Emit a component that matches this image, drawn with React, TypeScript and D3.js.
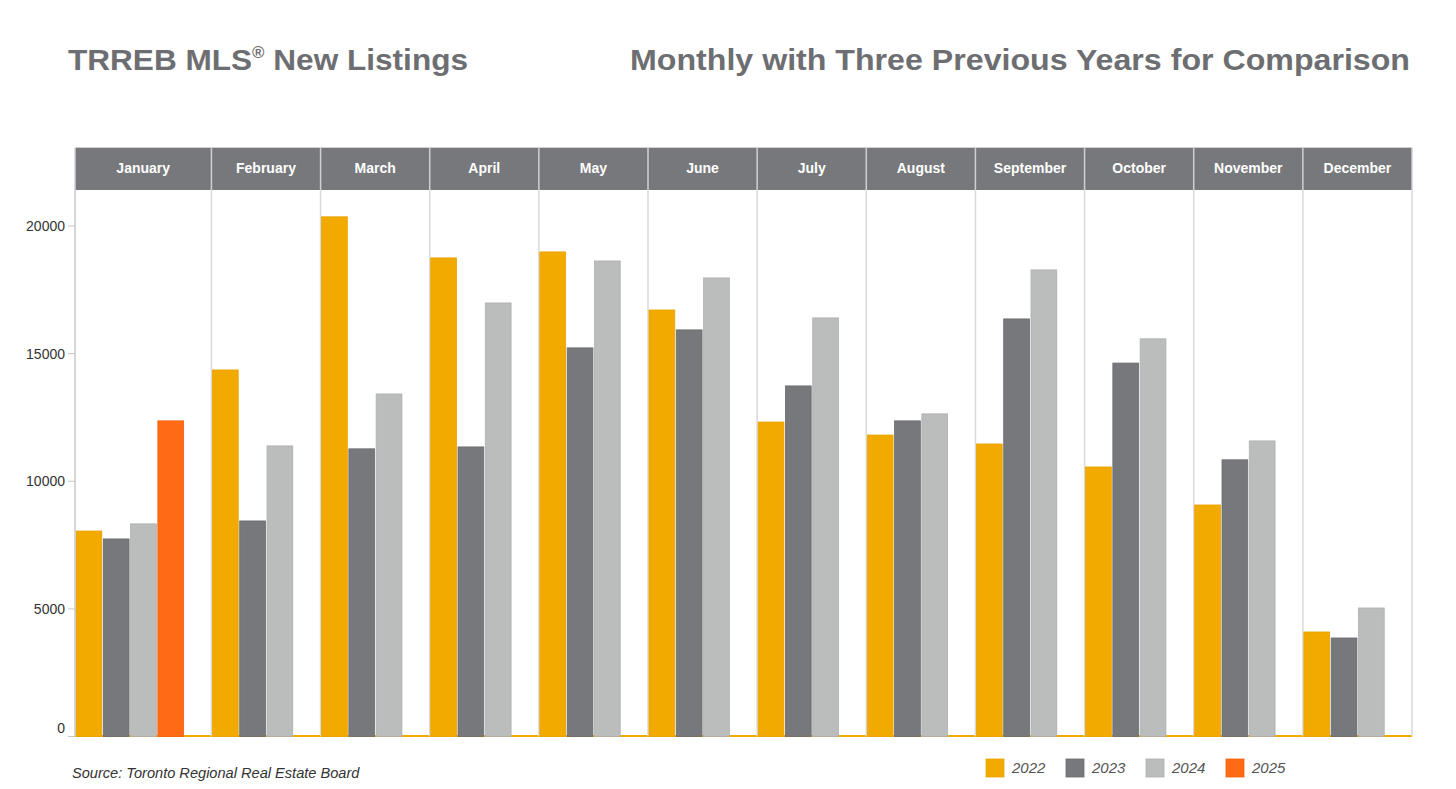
import React from "react";
import * as d3 from "d3";

const months = ["January","February","March","April","May","June","July","August","September","October","November","December"];
const years = ["2022","2023","2024","2025"];
const v2022 = [8050,14360,20360,18750,18985,16710,12320,11810,11460,10560,9070,4095];
const v2023 = [7740,8445,11270,11345,15225,15930,13735,12365,16360,14630,10840,3860];
const v2024 = [8330,11385,13420,16985,18630,17965,16400,12640,18280,15580,11580,5035];
const v2025 = [12365,null,null,null,null,null,null,null,null,null,null,null];
const yTicks = [0,5000,10000,15000,20000];

const colors: Record<string,string> = {"2022":"#F2A900","2023":"#77787B","2024":"#BBBCBC","2025":"#FF6B15"};
const strokes: Record<string,string> = {"2022":"#E9A300","2023":"#6A6B6E","2024":"#AEAFAF","2025":"#F25F0E"};

export default function App() {
  const W = 1456, H = 789;
  const left = 75, right = 1412, top = 190, bottom = 736.5;
  const series = [v2022, v2023, v2024, v2025];
  const slotsPer = months.map((_, i) => series.filter(s => s[i] != null).length + 1);
  const totalSlots = d3.sum(slotsPer);
  const slotX = d3.scaleLinear().domain([0, totalSlots]).range([left, right]);
  const starts: number[] = [];
  let acc = 0;
  slotsPer.forEach(n => { starts.push(acc); acc += n; });
  const y = d3.scaleLinear().domain([0, 20000]).range([bottom, 226]);

  return (
    <svg width={W} height={H} style={{position:"absolute", left:0, top:0, background:"#fff"}} fontFamily="Arial, 'Liberation Sans', sans-serif">
      <text x={68} y={70} fontSize={30} fontWeight="bold" fill="#6D6E71" textLength={400} lengthAdjust="spacingAndGlyphs">
        TRREB MLS<tspan fontSize={16} dy={-12}>®</tspan><tspan dy={12}> New Listings</tspan>
      </text>
      <text x={1410} y={70} fontSize={30} fontWeight="bold" fill="#6D6E71" textAnchor="end" textLength={780} lengthAdjust="spacingAndGlyphs">
        Monthly with Three Previous Years for Comparison
      </text>

      <line x1={left} x2={right} y1={bottom - 0.5} y2={bottom - 0.5} stroke="#F2A900" strokeWidth={2} />

      {months.map((m, i) => (
        <line key={"d"+m} x1={slotX(starts[i])} x2={slotX(starts[i])} y1={top} y2={bottom} stroke="#D9D9D9" strokeWidth={1.5} />
      ))}
      <line x1={right} x2={right} y1={top} y2={bottom} stroke="#D9D9D9" strokeWidth={1.5} />

      {months.map((m, i) => {
        let k = 0;
        return series.map((s, si) => {
          const v = s[i];
          if (v == null) return null;
          const x0 = slotX(starts[i] + k);
          const x1 = slotX(starts[i] + k + 1);
          k++;
          const yr = years[si];
          return (
            <rect key={m+yr} x={x0 + 1} y={y(v)} width={x1 - x0 - 1.5} height={bottom - y(v)}
              fill={colors[yr]} stroke={strokes[yr]} strokeWidth={0.8} />
          );
        });
      })}

      <rect x={left} y={148} width={right - left} height={top - 148} fill="#77787B" />
      {months.map((m, i) => {
        const x0 = slotX(starts[i]);
        const x1 = slotX(starts[i] + slotsPer[i]);
        return (
          <g key={"h"+m}>
            {i > 0 && <line x1={x0} x2={x0} y1={148} y2={top} stroke="#D0D0D0" strokeWidth={1.5} />}
            <text x={(x0 + x1) / 2} y={173} textAnchor="middle" fontSize={14} fontWeight="bold" fill="#FFFFFF">{m}</text>
          </g>
        );
      })}
      <line x1={left} x2={right} y1={147.5} y2={147.5} stroke="#D0D0D0" strokeWidth={1} />
      <line x1={left} x2={left} y1={148} y2={bottom} stroke="#D0D0D0" strokeWidth={1.5} />
      <line x1={right} x2={right} y1={148} y2={top} stroke="#D0D0D0" strokeWidth={1.5} />

      {yTicks.map(t => (
        <g key={"t"+t}>
          <line x1={68} x2={75} y1={y(t)} y2={y(t)} stroke="#C8C8C8" strokeWidth={1} />
          <text x={65} y={y(t) + (t === 0 ? -8 : 0)} dy="0.35em" textAnchor="end" fontSize={14} fill="#333">{t}</text>
        </g>
      ))}

      <text x={72} y={778} fontSize={14.6} fontStyle="italic" fill="#333">Source: Toronto Regional Real Estate Board</text>

      {years.map((yr, i) => (
        <g key={"l"+yr} transform={`translate(${986 + i * 80},759)`}>
          <rect x={0} y={0} width={18} height={18} fill={colors[yr]} stroke={strokes[yr]} strokeWidth={0.8} />
          <text x={26} y={14} fontSize={15} fontStyle="italic" fill="#555">{yr}</text>
        </g>
      ))}
    </svg>
  );
}
